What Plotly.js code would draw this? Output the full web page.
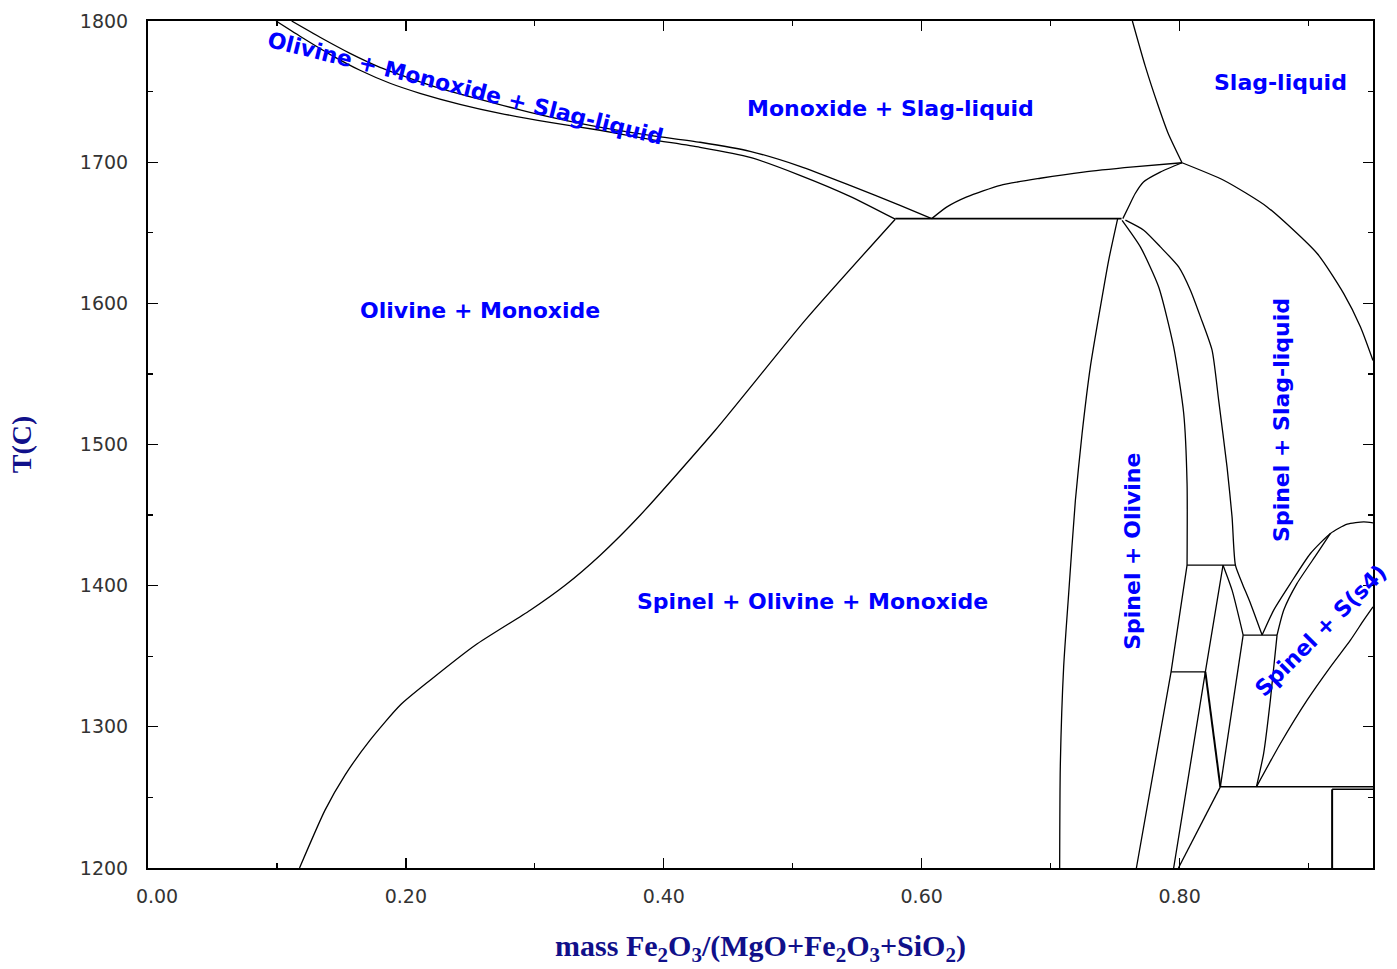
<!DOCTYPE html>
<html><head><meta charset="utf-8">
<script src="https://cdn.plot.ly/plotly-3.0.1.min.js"></script>
<style>html,body{margin:0;padding:0;background:#fff;} #chart{width:1397px;height:969px;}</style>
</head><body><div id="chart"></div>
<script>
// ---- phase boundary data (x = mass Fe2O3/(MgO+Fe2O3+SiO2), T in C) ----
const liqLowX = [0.0993,0.1179,0.1411,0.1644,0.1877,0.2109,0.2419,0.2730,0.3117,0.3505,0.3893,0.4281,0.4669,0.5056,0.5444,0.5795];
const liqLowT = [1800,1789.2,1776.4,1765.1,1755.9,1748.8,1741.0,1734.6,1728.2,1722.6,1716.2,1710.5,1703.4,1690.7,1675.8,1659.6];
const liqUpX  = [0.1114,0.1334,0.1567,0.1799,0.2032,0.2264,0.2575,0.2962,0.3428,0.3893,0.4281,0.4669,0.5056,0.5444,0.5832,0.6078];
const liqUpT  = [1800,1788.5,1777.1,1767.2,1759.4,1752.3,1744.5,1735.3,1726.1,1719.0,1714.1,1707.7,1697.1,1683.6,1669.4,1660];
const oliX = [0.5795,0.5097,0.4399,0.3817,0.3507,0.3235,0.2964,0.2537,0.2188,0.1955,0.1722,0.1528,0.1373,0.1175];
const oliT = [1659.6,1588.1,1510.1,1449.9,1421.6,1400.3,1382.6,1357.8,1333.0,1315.3,1290.6,1265.8,1241.0,1200];
const eutX = [0.5795,0.7550];
const eutT = [1660,1660];
const monoX = [0.6078,0.6196,0.6350,0.6610,0.6920,0.7254,0.7642,0.8019];
const monoT = [1660,1668.3,1675.4,1683.6,1688.6,1693.0,1696.6,1699.6];
const slagX = [0.7634,0.7732,0.7833,0.7911,0.8019];
const slagT = [1800,1768.6,1740.3,1720.5,1699.6];
const spUpX = [0.8019,0.7850,0.7720,0.7656,0.7604,0.7560];
const spUpT = [1699.6,1693.0,1686.0,1677.8,1668.3,1660];
const slagSpX = [0.8019,0.8342,0.8679,0.9067,0.9273,0.9403,0.9500];
const slagSpT = [1699.6,1687.2,1668.3,1635.3,1606.9,1583.3,1559.5];
const spOlLX = [0.7520,0.7450,0.7386,0.7308,0.7244,0.7192,0.7140,0.7101,0.7075,0.7070];
const spOlLT = [1660,1630.5,1597.5,1555.0,1507.8,1460.5,1394.5,1342.5,1271.7,1200];
const spOlRX = [0.7554,0.7696,0.7838,0.7954,0.8032,0.8058,0.8058];
const spOlRT = [1658.8,1640.0,1611.6,1569.1,1522.0,1472.4,1414.5];
const spOlR2X = [0.8058,0.7934,0.7665];
const spOlR2T = [1414.5,1339.0,1200];
const fanX = [0.7580,0.7722,0.7851,0.7993,0.8084,0.8162,0.8252,0.8303,0.8368,0.8407,0.8433,0.8486,0.8550,0.8640];
const fanT = [1658.9,1651.8,1640.0,1625.8,1609.3,1590.4,1566.8,1531.4,1484.1,1448.7,1414.5,1401.6,1387.4,1365.0];
// isotherms
const h1X = [0.8058,0.8433], h1T = [1414.5,1414.5];
const h2X = [0.7934,0.8200], h2T = [1339.0,1339.0];
const h3X = [0.8493,0.8756], h3T = [1365.0,1365.0];
const h4X = [0.8316,0.9500], h4T = [1257.5,1257.5];
const h5X = [0.9183,0.9500], h5T = [1255.7,1255.7];
const v1X = [0.9183,0.9183], v1T = [1255.7,1200];
// lower boundaries
const s1X = [0.8337,0.8200,0.7954], s1T = [1414.5,1339.0,1200];
const s2X = [0.8200,0.8316], s2T = [1339.0,1257.5];
const s3X = [0.8337,0.8407,0.8493], s3T = [1414.5,1396.8,1365.0];
const s4X = [0.8493,0.8316], s4T = [1365.0,1257.5];
const s5X = [0.8316,0.7991], s5T = [1257.5,1200];
const s6X = [0.8756,0.8704,0.8652,0.8596], s6T = [1365.0,1318.9,1281.2,1257.5];
const s7X = [0.8596,0.8782,0.8989,0.9170,0.9325,0.9428,0.9500];
const s7T = [1257.5,1288.2,1318.9,1342.5,1361.4,1375.6,1385.0];
const s8X = [0.8640,0.8730,0.8860,0.9015,0.9170,0.9300,0.9428,0.9500];
const s8T = [1365.0,1382.7,1401.6,1422.8,1437.0,1443.6,1445.2,1444.5];
const s9X = [0.8756,0.8808,0.8911,0.9067,0.9170];
const s9T = [1365.0,1382.7,1401.6,1422.8,1437.0];

// region labels
const labels = ["Olivine + Monoxide + Slag-liquid","Monoxide + Slag-liquid","Slag-liquid",
  "Olivine + Monoxide","Spinel + Olivine + Monoxide","Spinel + Olivine","Spinel + Slag-liquid","Spinel + S(s4)"];
const labelX = [0.2466,0.5762,0.8779,0.2575,0.5153,0.7639,0.8790,0.9095];
const labelT = [1752.3,1737.8,1756.2,1594.7,1388.6,1424.0,1517.7,1368.4];
const labelAngle = [14,0,0,0,0,-90,-90,-45];

const xTicks = [0,0.2,0.4,0.6,0.8];
const xTickText = ["\u00a0\u00a0\u00a00.00","0.20","0.40","0.60","0.80"];
const yTicks = [1200,1300,1400,1500,1600,1700,1800];

function line(x, y, smooth, w) {
  return {x: x, y: y, type: 'scatter', mode: 'lines', hoverinfo: 'skip', showlegend: false,
    line: {color: '#000', width: w || 1.3, shape: smooth ? 'spline' : 'linear', smoothing: 0.6}};
}
const traces = [
  line(liqLowX, liqLowT, true), line(liqUpX, liqUpT, true), line(oliX, oliT, true),
  line(eutX, eutT, false, 1.6), line(monoX, monoT, true), line(slagX, slagT, true),
  line(spUpX, spUpT, true), line(slagSpX, slagSpT, true), line(spOlLX, spOlLT, true),
  line(spOlRX, spOlRT, true), line(spOlR2X, spOlR2T, false), line(fanX, fanT, true),
  line(h1X, h1T, false), line(h2X, h2T, false), line(h3X, h3T, false), line(h4X, h4T, false, 1.5),
  line(h5X, h5T, false, 1.5), line(v1X, v1T, false, 2),
  line(s1X, s1T, false), line(s2X, s2T, false, 2), line(s3X, s3T, true), line(s4X, s4T, false),
  line(s5X, s5T, false), line(s6X, s6T, true), line(s7X, s7T, true), line(s8X, s8T, true), line(s9X, s9T, true)
];

const annotations = labels.map((t, i) => ({
  x: labelX[i], y: labelT[i], xref: 'x', yref: 'y', text: '<b>' + t + '</b>', showarrow: false,
  textangle: labelAngle[i], xanchor: 'center', yanchor: 'middle',
  font: {family: 'DejaVu Sans, Verdana, sans-serif', size: 22, color: '#0000ff'}
}));

const axisCommon = {
  showgrid: false, zeroline: false, showline: true, linecolor: '#000', linewidth: 2,
  mirror: 'ticks', ticks: 'inside', ticklen: 10, tickwidth: 1.3, tickcolor: '#000',
  tickfont: {family: 'DejaVu Sans, sans-serif', size: 19, color: '#333'}
};

const layout = {
  width: 1397, height: 969,
  margin: {l: 148, r: 24, t: 21, b: 101, pad: 0},
  paper_bgcolor: '#fff', plot_bgcolor: '#fff',
  xaxis: Object.assign({}, axisCommon, {
    range: [0, 0.95], tickvals: xTicks, ticktext: xTickText, ticklabelstandoff: 10,
    minor: {dtick: 0.1, ticklen: 5, tickwidth: 1.3, tickcolor: '#000', ticks: 'inside'},
    title: {text: '<b>mass Fe<sub>2</sub>O<sub>3</sub>/(MgO+Fe<sub>2</sub>O<sub>3</sub>+SiO<sub>2</sub>)</b>',
      font: {family: 'Liberation Serif, Times New Roman, serif', size: 30, color: '#10108a'}, standoff: 29}
  }),
  yaxis: Object.assign({}, axisCommon, {
    range: [1200, 1800], tickvals: yTicks, ticklabelstandoff: 14,
    minor: {dtick: 50, ticklen: 5, tickwidth: 1.3, tickcolor: '#000', ticks: 'inside'},
    title: {text: '<b>T(C)</b>', font: {family: 'Liberation Serif, Times New Roman, serif', size: 28, color: '#10108a'}, standoff: 40}
  }),
  annotations: annotations
};

Plotly.newPlot('chart', traces, layout, {displayModeBar: false, staticPlot: true});
</script></body></html>
